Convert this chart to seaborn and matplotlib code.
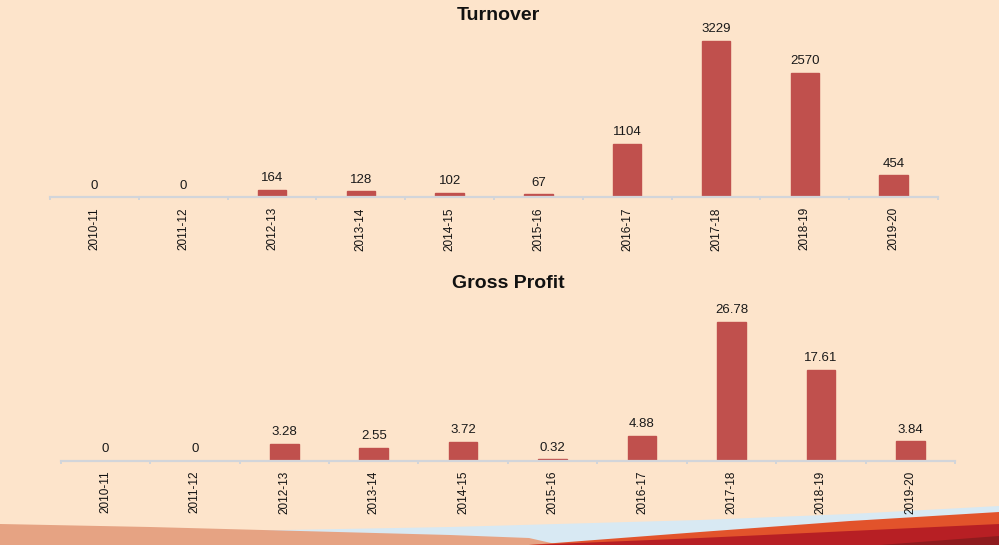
import matplotlib
matplotlib.use("Agg")
import matplotlib.pyplot as plt
import numpy as np
import pandas as pd
import seaborn as sns
from matplotlib.patches import Polygon

sns.set_theme(style="white")
plt.rcParams["font.family"] = ["Liberation Sans", "DejaVu Sans"]

years = ["2010-11", "2011-12", "2012-13", "2013-14", "2014-15",
         "2015-16", "2016-17", "2017-18", "2018-19", "2019-20"]
turnover = [0, 0, 164, 128, 102, 67, 1104, 3229, 2570, 454]
turnover_labels = ["0", "0", "164", "128", "102", "67", "1104", "3229", "2570", "454"]
gross_profit = [0, 0, 3.28, 2.55, 3.72, 0.32, 4.88, 26.78, 17.61, 3.84]
gp_labels = ["0", "0", "3.28", "2.55", "3.72", "0.32", "4.88", "26.78", "17.61", "3.84"]

BG = "#FDE4CB"
BAR = "#C0504D"
AXIS = "#D2D5DA"

W, H = 999, 545
fig = plt.figure(figsize=(W / 100, H / 100), dpi=100, facecolor=BG)

# decorative swoosh at the bottom of the slide
deco = fig.add_axes([0, 0, 1, 1], zorder=0)
deco.set_xlim(0, W)
deco.set_ylim(H, 0)
deco.axis("off")
deco.set_facecolor("none")
shapes = [
    ("#D8E9F3", [(230, 545), (230, 531), (450, 527), (700, 520), (850, 514), (999, 506), (999, 545)]),
    ("#E6A383", [(0, 545), (0, 524), (150, 527), (300, 531), (450, 535), (529, 538), (560, 545)]),
    ("#E2532B", [(529, 545), (700, 532), (850, 521), (999, 512), (999, 545)]),
    ("#B71F24", [(529, 545), (700, 538), (850, 531), (999, 524), (999, 545)]),
    ("#8E1B1E", [(880, 545), (999, 536), (999, 545)]),
]
for col, pts in shapes:
    deco.add_patch(Polygon(pts, closed=True, facecolor=col, edgecolor="none"))


def px_axes(left, right, top, bottom):
    return fig.add_axes([left / W, 1 - bottom / H, (right - left) / W, (bottom - top) / H], zorder=1)


def draw_panel(ax, values, labels, ymax, title, title_xy):
    df = pd.DataFrame({"year": years, "value": values})
    sns.barplot(data=df, x="year", y="value", color=BAR, width=0.32,
                saturation=1, ax=ax, edgecolor=BAR)
    ax.set_facecolor("none")
    ax.set_xlim(-0.5, len(years) - 0.5)
    ax.set_ylim(0, ymax)
    for side in ["top", "left", "right"]:
        ax.spines[side].set_visible(False)
    ax.spines["bottom"].set_color(AXIS)
    ax.spines["bottom"].set_linewidth(1.6)
    ax.set_yticks([])
    ax.set_xlabel("")
    ax.set_ylabel("")
    ax.set_xticks(np.arange(len(years)))
    ax.set_xticklabels(years, rotation=90, fontsize=8.5, color="#111111")
    ax.set_xticks(np.arange(len(years) + 1) - 0.5, minor=True)
    ax.tick_params(axis="x", which="both", bottom=True)
    ax.tick_params(axis="x", which="major", length=0, pad=7)
    ax.tick_params(axis="x", which="minor", length=2.5, width=1.4, color=AXIS, direction="out")
    for i, (v, lab) in enumerate(zip(values, labels)):
        ax.annotate(lab, (i, v), xytext=(0, 4), textcoords="offset points",
                    ha="center", va="bottom", fontsize=9.5, color="#1a1a1a")
    fig.text(title_xy[0] / W, 1 - title_xy[1] / H, title, ha="center", va="center",
             fontsize=14, fontweight="bold", color="#111111")


ax1 = px_axes(50, 938, 30, 197.5)
draw_panel(ax1, turnover, turnover_labels, 3229 * 167.5 / 156.5, "Turnover", (498, 16))

ax2 = px_axes(60.7, 955, 300, 461)
draw_panel(ax2, gross_profit, gp_labels, 26.78 * 161 / 139, "Gross Profit", (508, 284))

fig.savefig("out.png", dpi=100, facecolor=BG)
